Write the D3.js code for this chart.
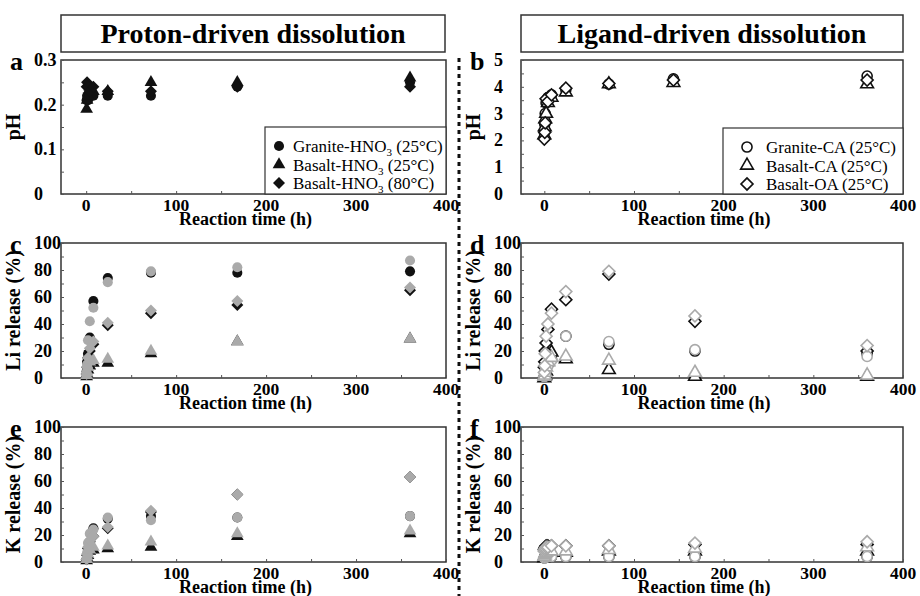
<!DOCTYPE html>
<html>
<head>
<meta charset="utf-8">
<script src="https://cdn.jsdelivr.net/npm/d3@7"></script>
<style>
  body { margin: 0; background: #fff; }
  text { font-family: "Liberation Serif", "Times New Roman", serif; }
</style>
</head>
<body>
<svg id="chart" width="920" height="596" font-family="Liberation Serif"></svg>
<script>
// Data
var timeProton = [0.5, 1, 2, 4, 8, 24, 72, 168, 360];
var timeLigandPH = [0, 0.5, 1, 2, 4, 8, 24, 72, 144, 360];
var timeLigand = [0, 0.5, 1, 2, 4, 8, 24, 72, 168, 360];

// a: pH, proton-driven
var phGraniteHNO3 = [0.21, 0.22, 0.21, 0.23, 0.22, 0.22, 0.22, 0.24, 0.25];
var phBasaltHNO3_25 = [0.19, 0.21, 0.22, 0.24, 0.23, 0.23, 0.25, 0.25, 0.26];
var phBasaltHNO3_80 = [0.24, 0.25, 0.24, 0.23, 0.24, 0.23, 0.23, 0.24, 0.24];

// b: pH, ligand-driven
var phGraniteCA = [2.3, 2.6, 3.0, 3.4, 3.6, 3.7, 3.9, 4.1, 4.3, 4.4];
var phBasaltCA = [2.2, 2.5, 2.8, 3.0, 3.4, 3.6, 3.8, 4.1, 4.15, 4.1];
var phBasaltOA = [2.05, 2.3, 2.65, 3.55, 3.45, 3.7, 3.95, 4.12, 4.25, 4.25];

// c: Li release, proton-driven (black / grey markers)
var liGraniteHNO3 = [5, 12, 18, 30, 57, 74, 78, 78, 79];
var liGraniteHNO3b = [4, 10, 28, 42, 52, 71, 79, 82, 87];
var liBasaltHNO3_25 = [1, 3, 6, 9, 11, 11, 18, 27, 29];
var liBasaltHNO3_25b = [2, 4, 8, 12, 13, 14, 20, 27, 29];
var liBasaltHNO3_80 = [3, 8, 15, 20, 25, 39, 48, 54, 65];
var liBasaltHNO3_80b = [3, 8, 15, 22, 27, 41, 50, 57, 67];

// d: Li release, ligand-driven
var liGraniteCA = [1, 2, 4, 7, 10, 14, 31, 25, 20, 18];
var liGraniteCAb = [1, 2, 3, 5, 9, 13, 31, 27, 21, 16];
var liBasaltCA = [0, 1, 2, 5, 12, 19, 14, 6, 1, 1];
var liBasaltCAb = [1, 2, 4, 8, 12, 15, 16, 13, 4, 2];
var liBasaltOA = [8, 12, 20, 26, 36, 51, 58, 77, 42, 20];
var liBasaltOAb = [4, 9, 18, 31, 40, 48, 64, 79, 46, 24];

// e: K release, proton-driven
var kGraniteHNO3 = [2, 5, 10, 15, 25, 32, 34, 33, 34];
var kGraniteHNO3b = [3, 7, 14, 21, 24, 33, 31, 33, 34];
var kBasaltHNO3_25 = [1, 3, 5, 8, 9, 10, 11, 19, 21];
var kBasaltHNO3_25b = [2, 4, 6, 9, 11, 12, 15, 21, 23];
var kBasaltHNO3_80 = [2, 5, 10, 15, 19, 25, 37, 50, 63];
var kBasaltHNO3_80b = [2, 6, 11, 16, 19, 26, 38, 50, 63];

// f: K release, ligand-driven
var kGraniteCA = [3, 4, 4, 4, 4, 4, 4, 4, 4, 4];
var kGraniteCAb = [3, 3, 4, 4, 4, 4, 4, 4, 4, 4];
var kBasaltCA = [3, 4, 5, 6, 7, 7, 7, 8, 8, 8];
var kBasaltCAb = [4, 5, 6, 7, 8, 8, 8, 9, 10, 11];
var kBasaltOA = [9, 10, 11, 12, 12, 12, 12, 12, 13, 13];
var kBasaltOAb = [8, 9, 10, 11, 11, 12, 12, 12, 14, 15];

var xTicks = [0, 100, 200, 300, 400];
var legendProton = ["Granite-HNO|3| (25°C)", "Basalt-HNO|3| (25°C)", "Basalt-HNO|3| (80°C)"];
var legendLigand = ["Granite-CA (25°C)", "Basalt-CA (25°C)", "Basalt-OA  (25°C)"];

var svg = d3.select('#chart');
var black = '#111', grey = '#aaa';

// marker path by shape name
function marker(shape) {
	if (shape == 'circle') return d3.symbol().type(d3.symbolCircle).size(80)();
	if (shape == 'triangle') return d3.symbol().type(d3.symbolTriangle).size(70)();
	return d3.symbol().type(d3.symbolSquare).size(72)(); // rotated 45 later
}

function panel(opts) {
	var x = d3.scaleLinear().domain(opts.xDomain).range([opts.left, opts.right]),
		y = d3.scaleLinear().domain(opts.yDomain).range([opts.bottom, opts.top]);
	var g = svg.append('g');

	// frame
	g.append('rect')
		.attr('x', opts.left).attr('y', opts.top)
		.attr('width', opts.right - opts.left).attr('height', opts.bottom - opts.top)
		.attr('fill', 'none').attr('stroke', '#333').attr('stroke-width', 1.5);

	// small inward ticks
	var xa = g.append('g').attr('transform', 'translate(0,' + opts.bottom + ')')
		.call(d3.axisBottom(x).tickValues(d3.range(0, 401, 50)).tickSize(-3).tickFormat(''));
	var ya = g.append('g').attr('transform', 'translate(' + opts.left + ',0)')
		.call(d3.axisLeft(y).tickValues(opts.minor).tickSize(-3).tickFormat(''));
	[xa, ya].forEach(function(a) {
		a.select('.domain').remove();
		a.selectAll('line').attr('stroke', '#555');
	});

	// tick labels
	g.selectAll('.xl').data(xTicks).enter().append('text')
		.attr('x', function(d) { return x(d); })
		.attr('y', opts.bottom + 17)
		.attr('text-anchor', 'middle')
		.attr('font-size', 17.5).attr('font-weight', 'bold')
		.text(function(d) { return d; });
	g.selectAll('.yl').data(opts.yTicks).enter().append('text')
		.attr('x', opts.left - 27)
		.attr('y', function(d) { return y(d) + 6; })
		.attr('font-size', 18).attr('font-weight', 'bold')
		.text(function(d) { return opts.yFormat ? opts.yFormat(d) : d; });

	// axis titles
	g.append('text')
		.attr('x', (opts.left + opts.right) / 2 - 8)
		.attr('y', opts.bottom + 31)
		.attr('text-anchor', 'middle')
		.attr('font-size', 18).attr('font-weight', 'bold')
		.text('Reaction time (h)');
	g.append('text')
		.attr('transform', 'translate(' + (opts.left - 41) + ',' + ((opts.top + opts.bottom) / 2) + ') rotate(-90)')
		.attr('text-anchor', 'middle')
		.attr('font-size', 20).attr('font-weight', 'bold')
		.text(opts.yLabel);

	// panel letter
	g.append('text')
		.attr('x', opts.left - 51)
		.attr('y', opts.top + 10)
		.attr('font-size', 26).attr('font-weight', 'bold')
		.text(opts.letter);

	// points: black set first, grey set on top
	opts.series.forEach(function(s) {
		var pts = s.values.map(function(v, i) { return { t: s.times[i], v: v }; });
		g.selectAll(null).data(pts).enter().append('path')
			.attr('d', marker(s.shape))
			.attr('transform', function(d) {
				return 'translate(' + x(d.t) + ',' + y(d.v) + ')' + (s.shape == 'diamond' ? ' rotate(45)' : '');
			})
			.attr('fill', opts.open ? '#fff' : s.color)
			.attr('stroke', opts.open ? s.color : 'none')
			.attr('stroke-width', 1.6);
	});

	return { x: x, y: y, g: g };
}

function legend(p, opts) {
	var lg = p.g.append('g');
	lg.append('rect')
		.attr('x', opts.x).attr('y', opts.y)
		.attr('width', opts.w).attr('height', opts.h)
		.attr('fill', '#fff').attr('stroke', '#333').attr('stroke-width', 1.2);
	var shapes = ['circle', 'triangle', 'diamond'];
	opts.labels.forEach(function(l, i) {
		var cy = opts.y + 19 + i * 18.5;
		lg.append('path')
			.attr('d', marker(shapes[i]))
			.attr('transform', 'translate(' + opts.mx + ',' + cy + ')' + (i == 2 ? ' rotate(45)' : ''))
			.attr('fill', opts.open ? '#fff' : black)
			.attr('stroke', opts.open ? black : 'none')
			.attr('stroke-width', 1.6);
		var t = lg.append('text')
			.attr('x', opts.tx).attr('y', cy + 6)
			.attr('font-size', 17);
		// pieces between | | are subscripts
		l.split('|').forEach(function(part, j) {
			var ts = t.append('tspan').text(part);
			if (j == 1) ts.attr('font-size', 11).attr('dy', 4);
			if (j == 2) ts.attr('dy', -4);
		});
	});
}

function titleBox(x0, x1, label) {
	svg.append('rect')
		.attr('x', x0).attr('y', 15)
		.attr('width', x1 - x0).attr('height', 37)
		.attr('fill', '#fff').attr('stroke', '#333').attr('stroke-width', 1.5);
	svg.append('text')
		.attr('x', (x0 + x1) / 2).attr('y', 43)
		.attr('text-anchor', 'middle')
		.attr('font-size', 28).attr('font-weight', 'bold')
		.text(label);
}

function set(times, blackVals, greyVals, shape) {
	return [{ times: times, values: blackVals, shape: shape, color: black },
		{ times: times, values: greyVals, shape: shape, color: grey }];
}

var L = { left: 61, right: 446, xDomain: [-28, 400] },
	R = { left: 521, right: 903, xDomain: [-26, 400] };
var rows = [{ top: 60, bottom: 194 }, { top: 243, bottom: 378 }, { top: 427, bottom: 562 }];
var pct = { yDomain: [0, 100], yTicks: [0, 20, 40, 60, 80, 100], minor: d3.range(0, 101, 10) };

titleBox(61, 445, 'Proton-driven dissolution');
titleBox(521, 903, 'Ligand-driven dissolution');

// a
var pa = panel(Object.assign({}, L, rows[0], {
	letter: 'a', yLabel: 'pH', yDomain: [0, 0.3], yTicks: [0, 0.1, 0.2, 0.3],
	minor: d3.range(0, 0.31, 0.05), yFormat: function(d) { return d == 0 ? '0' : d3.format('.1f')(d); },
	series: [
		{ times: timeProton, values: phGraniteHNO3, shape: 'circle', color: black },
		{ times: timeProton, values: phBasaltHNO3_25, shape: 'triangle', color: black },
		{ times: timeProton, values: phBasaltHNO3_80, shape: 'diamond', color: black }
	]
}));
legend(pa, { x: 265, y: 127, w: 181, h: 67, mx: 279, tx: 293, labels: legendProton });

// b
var pb = panel(Object.assign({}, R, rows[0], {
	letter: 'b', yLabel: 'pH', yDomain: [0, 5], yTicks: [0, 1, 2, 3, 4, 5],
	minor: d3.range(0, 5.1, 0.5), open: true,
	series: [
		{ times: timeLigandPH, values: phGraniteCA, shape: 'circle', color: black },
		{ times: timeLigandPH, values: phBasaltCA, shape: 'triangle', color: black },
		{ times: timeLigandPH, values: phBasaltOA, shape: 'diamond', color: black }
	]
}));
legend(pb, { x: 723, y: 128, w: 180, h: 66, mx: 747, tx: 766, labels: legendLigand, open: true });

// c
panel(Object.assign({}, L, rows[1], pct, {
	letter: 'c', yLabel: 'Li release (%)',
	series: [].concat(
		set(timeProton, liGraniteHNO3, liGraniteHNO3b, 'circle'),
		set(timeProton, liBasaltHNO3_25, liBasaltHNO3_25b, 'triangle'),
		set(timeProton, liBasaltHNO3_80, liBasaltHNO3_80b, 'diamond')
	).sort(function(a, b) { return (a.color == grey) - (b.color == grey); })
}));

// d
panel(Object.assign({}, R, rows[1], pct, {
	letter: 'd', yLabel: 'Li release (%)', open: true,
	series: [].concat(
		set(timeLigand, liGraniteCA, liGraniteCAb, 'circle'),
		set(timeLigand, liBasaltCA, liBasaltCAb, 'triangle'),
		set(timeLigand, liBasaltOA, liBasaltOAb, 'diamond')
	).sort(function(a, b) { return (a.color == grey) - (b.color == grey); })
}));

// e
panel(Object.assign({}, L, rows[2], pct, {
	letter: 'e', yLabel: 'K release (%)',
	series: [].concat(
		set(timeProton, kGraniteHNO3, kGraniteHNO3b, 'circle'),
		set(timeProton, kBasaltHNO3_25, kBasaltHNO3_25b, 'triangle'),
		set(timeProton, kBasaltHNO3_80, kBasaltHNO3_80b, 'diamond')
	).sort(function(a, b) { return (a.color == grey) - (b.color == grey); })
}));

// f
panel(Object.assign({}, R, rows[2], pct, {
	letter: 'f', yLabel: 'K release (%)', open: true,
	series: [].concat(
		set(timeLigand, kGraniteCA, kGraniteCAb, 'circle'),
		set(timeLigand, kBasaltCA, kBasaltCAb, 'triangle'),
		set(timeLigand, kBasaltOA, kBasaltOAb, 'diamond')
	).sort(function(a, b) { return (a.color == grey) - (b.color == grey); })
}));

// dotted divider between the two columns
svg.append('line')
	.attr('x1', 459).attr('x2', 459).attr('y1', 58).attr('y2', 596)
	.attr('stroke', '#111').attr('stroke-width', 3)
	.attr('stroke-dasharray', '4,4');
</script>
</body>
</html>
